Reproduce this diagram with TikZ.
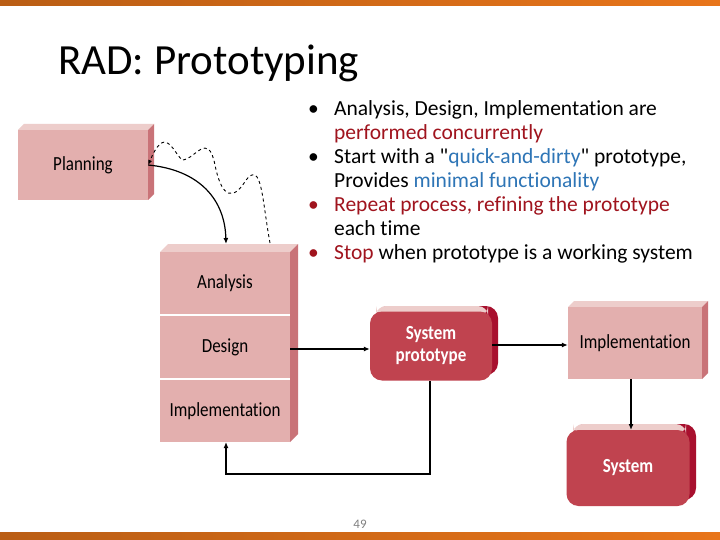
\documentclass[tikz,border=0pt]{standalone}
\usepackage{fontspec}
\setmainfont{Carlito}[Ligatures=NoCommon]
\newfontfamily\qfont{Carlito}
\usetikzlibrary{arrows.meta}
\definecolor{pinkf}{HTML}{E3AFAE}
\definecolor{pinks}{HTML}{C97378}
\definecolor{pinkt}{HTML}{EDCDCB}
\definecolor{redf}{HTML}{C0434F}
\definecolor{reds}{HTML}{A8102E}
\definecolor{dred}{HTML}{A0141E}
\definecolor{blu}{HTML}{2E75B6}
\definecolor{orng}{HTML}{E8751A}
\tikzset{
  x=1pt,y=-1pt,
  box/.style={fill=pinkf,inner sep=0pt,font=\fontsize{20}{20}\selectfont\addfontfeature{FakeStretch=0.85}},
  rbox/.style={fill=redf,rounded corners=12pt,inner sep=0pt,text=white,align=center,font=\bfseries\fontsize{20}{22}\selectfont\addfontfeature{FakeStretch=0.85}},
  conn/.style={line width=1.4pt,-{Latex[length=6pt,width=5pt]}},
  bl/.style={anchor=north west,align=left,font=\fontsize{21.5}{24}\selectfont,inner sep=0pt}
}
\begin{document}
\begin{tikzpicture}
\useasboundingbox (0,0) rectangle (720,540);
\fill[white] (0,0) rectangle (720,540);
\shade[left color=orng!80!black,right color=orng] (0,0) rectangle (720,6);
\shade[left color=orng!80!black,right color=orng] (0,532) rectangle (720,540);
\node[anchor=base west,font=\fontsize{43}{43}\selectfont,inner sep=0pt] (title) at (58,75) {RAD: Prototyping};
\fill[pinkt] (18,130) -- (24,124) -- (154,124) -- (148,130) -- cycle;
\fill[pinks] (148,130) -- (154,124) -- (154,194) -- (148,200) -- cycle;
\node[box,minimum width=130pt,minimum height=70pt] (plan) at (83,165) {Planning};
\fill[pinkt] (160,252) -- (168,244) -- (298,244) -- (290,252) -- cycle;
\fill[pinks] (290,252) -- (298,244) -- (298,434) -- (290,442) -- cycle;
\node[box,minimum width=130pt,minimum height=62pt] (ana) at (225,283) {Analysis};
\node[box,minimum width=130pt,minimum height=62pt] (des) at (225,347) {Design};
\node[box,minimum width=130pt,minimum height=62pt] (imp) at (225,411) {Implementation};
\fill[pinkt] (568,307) -- (574,301) -- (708,301) -- (702,307) -- cycle;
\fill[pinks] (702,307) -- (708,301) -- (708,373) -- (702,379) -- cycle;
\node[box,minimum width=134pt,minimum height=72pt] (imp2) at (635,343) {Implementation};
\fill[reds,rounded corners=12pt] (376,306) rectangle (498,375);
\fill[pinkt,rounded corners=10pt] (376,306) rectangle (488,316);
\node[rbox,minimum width=122pt,minimum height=69pt] (proto) at (431,346) {System\\prototype};
\fill[reds,rounded corners=12pt] (573,424) rectangle (696,500);
\fill[pinkt,rounded corners=10pt] (573,424) rectangle (686,434);
\node[rbox,minimum width=123pt,minimum height=76pt] (sys) at (628,468) {System};
\coordinate (dsE) at (290,349);
\draw[conn] (dsE) -- (proto.west |- dsE);
\draw[conn] (proto.east |- 0,345) -- (imp2.west |- 0,345);
\draw[conn] (631,379) -- (631,430);
\coordinate (c1) at (430,474);
\coordinate (c2) at (226,474);
\draw[conn] (430,381) -- (c1) -- (c2) -- (226,442);
\draw[line width=1.2pt,-{Latex[length=6pt,width=5pt]}] (plan.east) .. controls (200,170) and (225,200) .. (226,244);
\draw[dashed,line width=0.9pt,-{Latex[length=5pt,width=4pt]}] (270,243) .. controls (262,200) and (262,160) .. (246,180) .. controls (234,200) and (222,200) .. (215,165) .. controls (208,130) and (195,160) .. (182,160) .. controls (172,150) and (165,125) .. (plan.east);
\node[bl] (bullets) at (308,100) {%
\makebox[26pt][l]{•}Analysis, Design, Implementation are\\
\hspace*{26pt}\textcolor{dred}{performed concurrently}\\
\makebox[26pt][l]{•}Start with a {\qfont"}\textcolor{blu}{quick-and-dirty}{\qfont"} prototype,\\
\hspace*{26pt}Provides \textcolor{blu}{minimal functionality}\\
\makebox[26pt][l]{\textcolor{dred}{•}}\textcolor{dred}{Repeat process, refining the prototype}\\
\hspace*{26pt}each time\\
\makebox[26pt][l]{\textcolor{dred}{•}}\textcolor{dred}{Stop} when prototype is a working system};
\node[font=\fontsize{13}{13}\selectfont,text=gray] (pg) at (360,524) {49};
\end{tikzpicture}
\end{document}
